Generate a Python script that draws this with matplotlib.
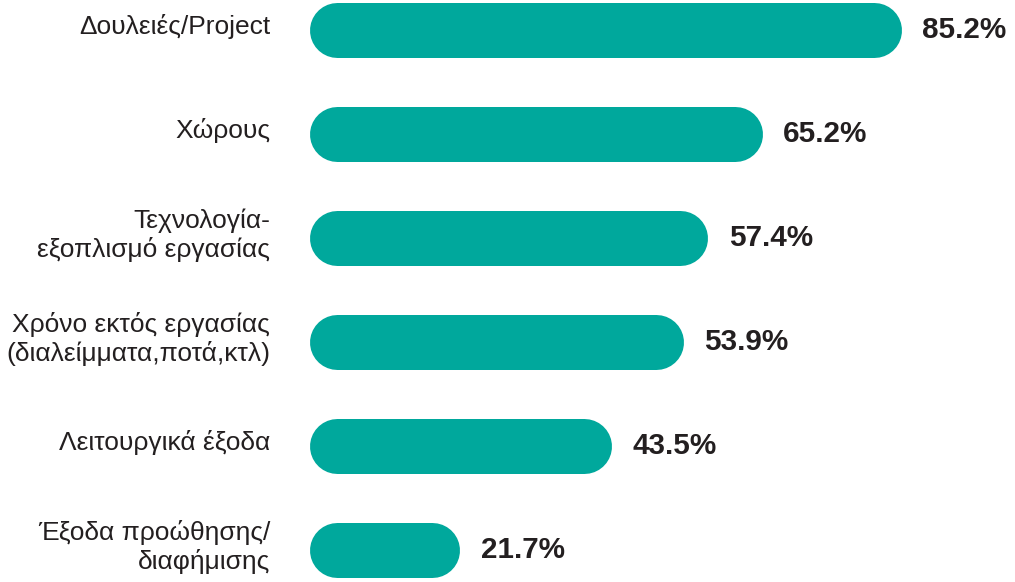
import matplotlib
matplotlib.use('Agg')
import matplotlib.pyplot as plt

# Data
categories = [
    'Δουλειές/Project',
    'Χώρους',
    'Τεχνολογία-\nεξοπλισμό εργασίας',
    'Χρόνο εκτός εργασίας\n(διαλείμματα,ποτά,κτλ)',
    'Λειτουργικά έξοδα',
    'Έξοδα προώθησης/\nδιαφήμισης',
]
values = [85.2, 65.2, 57.4, 53.9, 43.5, 21.7]

bar_color = '#00a89c'
text_color = '#231f20'

plt.rcParams['font.family'] = ['Liberation Sans', 'DejaVu Sans']

fig = plt.figure(figsize=(10.15, 5.82), dpi=100)
ax = fig.add_axes([309 / 1015, 0, 695 / 1015, 1])
ax.set_xlim(0, 100)
ax.set_ylim(5.308, -0.288)
ax.axis('off')

# bar thickness ~55 px; draw as thick lines with round caps (pill shape)
bar_px = 55
lw_pt = bar_px * 72 / fig.dpi
px_per_unit = (695 / 100)
r = (bar_px / 2) / px_per_unit  # cap radius in data units

for i, (cat, val) in enumerate(zip(categories, values)):
    ax.plot([r, val - r], [i, i], color=bar_color, lw=lw_pt,
            solid_capstyle='round')
    ax.text(val + 3.0, i, f'{val}%', ha='left', va='center',
            fontsize=21.3, fontweight='bold', color=text_color)
    ax.text(-5.6, i - 0.03, cat, ha='right', va='center', fontsize=19,
            color=text_color, linespacing=1.2, multialignment='right')

fig.savefig('out.png', dpi=100)
